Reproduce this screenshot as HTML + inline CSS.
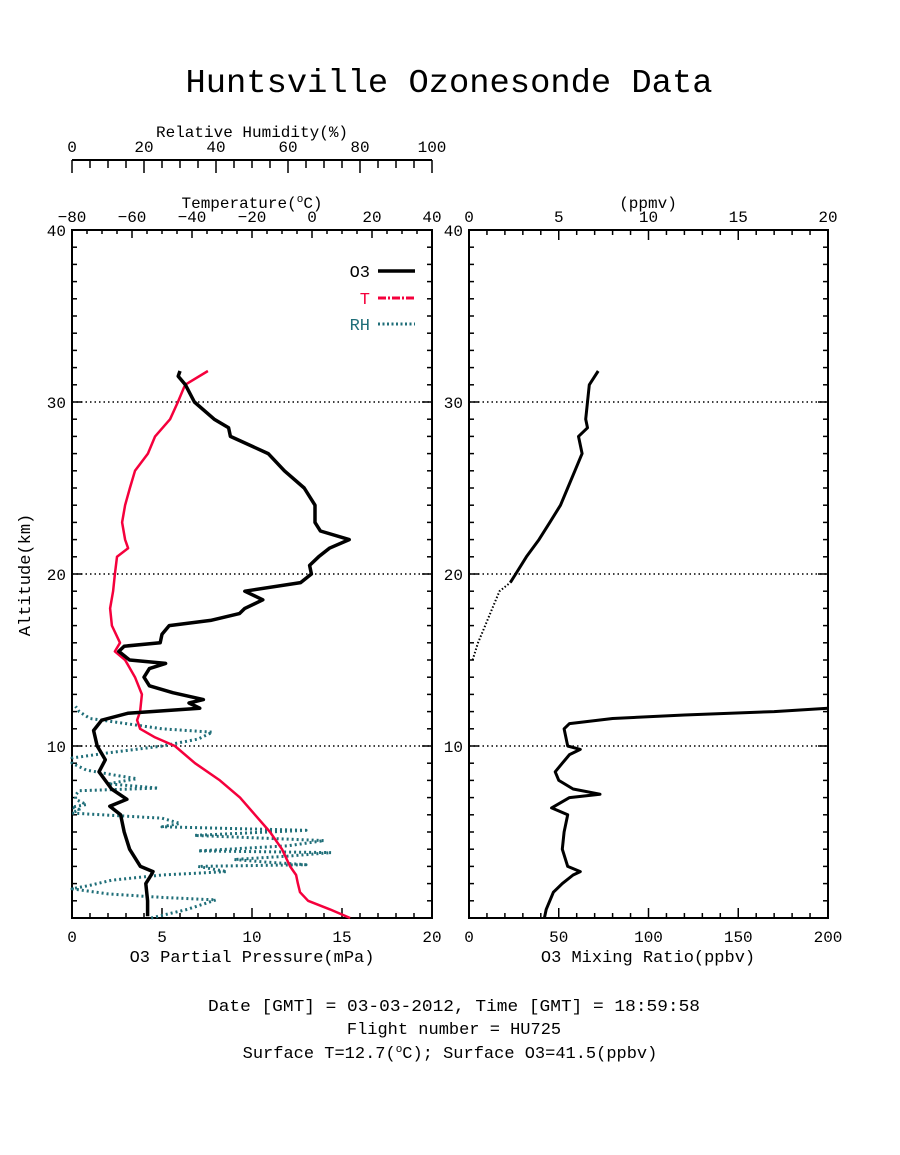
<!DOCTYPE html>
<html><head><meta charset="utf-8"><title>Huntsville Ozonesonde Data</title>
<style>
html,body{margin:0;padding:0;background:#fff;}
svg text{font-family:"Liberation Mono","DejaVu Sans Mono",monospace;fill:#000;}
</style></head>
<body>
<svg id="chart" xmlns="http://www.w3.org/2000/svg" width="900" height="1150" viewBox="0 0 900 1150">
<rect x="0" y="0" width="900" height="1150" fill="#fff"/>
<text x="449" y="92" font-size="33" text-anchor="middle" textLength="527" lengthAdjust="spacingAndGlyphs">Huntsville Ozonesonde Data</text>
<g id="g"></g>
<text x="454" y="1011" font-size="17" text-anchor="middle" textLength="492" lengthAdjust="spacingAndGlyphs">Date [GMT] = 03-03-2012,  Time [GMT] = 18:59:58</text>
<text x="454" y="1034" font-size="17" text-anchor="middle">Flight number = HU725</text>
<text x="450" y="1058" font-size="17" text-anchor="middle">Surface T=12.7(<tspan font-size="11" dy="-6">o</tspan><tspan dy="6">C); Surface O3=41.5(ppbv)</tspan></text>
</svg>
<script>
// ---- data ----
const o3Alt = [0.1,1,2,2.5,2.7,3,4,5,6,6.5,6.9,7.5,8.5,9.2,10,10.9,11.5,11.9,12.2,12.5,12.7,13.1,13.5,14,14.5,14.8,15,15.5,15.8,16,16.5,17,17.3,17.7,18,18.5,19,19.5,20,20.5,21,21.5,22,22.5,23,24,25,26,27,28,28.5,29,30,31,31.5,31.8];
const o3Pp  = [4.2,4.2,4.1,4.4,4.5,3.8,3.2,2.9,2.7,2.1,3.05,2.2,1.5,1.85,1.4,1.2,1.65,3.1,7.1,6.5,7.3,5.6,4.3,4.0,4.3,5.2,3.2,2.6,2.9,4.9,5.0,5.4,7.7,9.3,9.6,10.6,9.6,12.7,13.3,13.2,13.7,14.3,15.4,13.8,13.5,13.5,12.9,11.8,10.9,8.8,8.7,7.9,6.8,6.3,5.9,6.0];
const tAlt = [0,0.5,1,1.5,2,2.5,3,4,5,6,7,8,9,10,10.5,11,11.5,12,13,14,15,15.5,16,17,18,19,20,21,21.5,22,23,24,25,26,27,28,29,30,31,31.8];
const tVal = [12.7,6,-1.3,-4,-4.7,-5.3,-7.3,-10,-14,-19,-24,-30.7,-39,-45.7,-52.3,-57.3,-58.3,-57.3,-56.7,-59,-62.3,-65.7,-64,-66.7,-67.3,-66.3,-65.7,-65,-61.3,-62.3,-63.3,-62.3,-60.7,-59,-54.7,-52.3,-47.3,-44.7,-42.3,-34.7];
const rhAlt = [0,0.5,1.05,1.2,1.4,1.7,1.9,2.2,2.5,2.7,3.0,3.1,3.25,3.4,3.6,3.8,3.9,4.2,4.5,4.8,5.1,5.3,5.5,5.8,6.1,6.3,6.45,6.6,6.9,7.15,7.4,7.55,7.8,8.1,8.3,8.6,9.0,9.3,9.6,10.0,10.4,10.8,11.0,11.3,11.6,12.0,12.3];
const rhVal = [22,32,40,25,10,0,5,11,25,43,35,65,54,45,60,72,35,60,70,34,65,25,30,25,0,2,0,4,1,1,2,24,10,18,12,4,0,0,10,25,35,39,25,15,5,2,1];
const mrAltLow = [0,0.5,1,1.5,2,2.5,2.7,3,4,5,6,6.4,7,7.2,7.5,8,8.5,9,9.5,9.8,10,11,11.3,11.6,11.8,12,12.2];
const mrPpbv   = [42,43,45,47,52,58,62,55,52,53,55,46,56,73,58,50,48,52,56,62,55,53,56,80,120,170,200];
const mrAltHigh = [15,16,17,18,19,19.5,20,21,22,23,24,25,26,27,28,28.5,29,30,31,31.8];
const mrPpmv    = [0.2,0.5,0.9,1.3,1.7,2.3,2.6,3.2,3.9,4.5,5.1,5.5,5.9,6.3,6.1,6.6,6.5,6.6,6.7,7.2];
const altTicks = [10,20,30,40];
const ppTicks = [0,5,10,15,20];
const tTicks = [-80,-60,-40,-20,0,20,40];
const rhTicks = [0,20,40,60,80,100];
const ppmvTicks = [0,5,10,15,20];
const ppbvTicks = [0,50,100,150,200];

// ---- geometry ----
const NS='http://www.w3.org/2000/svg';
const g=document.getElementById('g');
const L={x0:72,x1:432}, R={x0:469,x1:828}, Y0=918, Y1=230;
const yA=a=>Y0-(a/40)*(Y0-Y1);
const xPP=v=>L.x0+v/20*(L.x1-L.x0);
const xT=v=>L.x0+(v+80)/120*(L.x1-L.x0);
const xRH=v=>L.x0+v/100*(L.x1-L.x0);
const xPB=v=>R.x0+v/200*(R.x1-R.x0);
const xPM=v=>R.x0+v/20*(R.x1-R.x0);
function el(t,a,p){const e=document.createElementNS(NS,t);for(const k in a)e.setAttribute(k,a[k]);(p||g).appendChild(e);return e;}
function line(x1,y1,x2,y2,w,c){return el('line',{x1,y1,x2,y2,stroke:c||'#000','stroke-width':w||1.5});}
function txt(s,x,y,sz,anc){const t=el('text',{x,y,'font-size':sz||16,'text-anchor':anc||'middle'});t.textContent=s;return t;}
function poly(xs,ys,fx,style){const pts=xs.map((v,i)=>fx(v).toFixed(1)+','+yA(ys[i]).toFixed(1)).join(' ');const p=el('polyline',Object.assign({points:pts,fill:'none','stroke-linejoin':'round'},style));return p;}

// boxes
for(const B of [L,R]){
  const r=el('rect',{x:B.x0,y:Y1,width:B.x1-B.x0,height:Y0-Y1,fill:'none',stroke:'#000','stroke-width':2});
  
  
  // altitude ticks
  for(let a=1;a<40;a++){const len=a%10===0?10:5;const y=yA(a);line(B.x0,y,B.x0+len,y,1.5);line(B.x1,y,B.x1-len,y,1.5);}
  // gridlines
  for(const a of [10,20,30]){const gl=el('line',{x1:B.x0,y1:yA(a),x2:B.x1,y2:yA(a),stroke:'#000','stroke-width':1.5,'stroke-dasharray':'1.5 3'});}
}
// left altitude labels
for(const a of altTicks){const t=txt(String(a),L.x0-6,yA(a)+6,16,'end');
  const t2=txt(String(a),R.x0-6,yA(a)+6,16,'end');}
// left bottom O3 partial pressure axis
for(let v=1;v<20;v++){const len=v%5===0?10:5;line(xPP(v),Y0,xPP(v),Y0-len,1.5);}
for(const v of ppTicks){const t=txt(String(v),xPP(v),942,16);}
{const t=txt('O3 Partial Pressure(mPa)',252,962,17);}
// temperature axis (top of box)
for(let v=-75;v<40;v+=5){const len=v%20===0?8:4;line(xT(v),Y1,xT(v),Y1+len,1.5);}
for(const v of tTicks){const t=txt(v<0?'\u2212'+(-v):String(v),xT(v),222,16);}
{const t=el('text',{x:252,y:208,'font-size':16,'text-anchor':'middle'});t.innerHTML='Temperature(<tspan font-size="11" dy="-6">o</tspan><tspan dy="6">C)</tspan>';}
// RH axis
line(L.x0,160,L.x1,160,2);
for(let v=0;v<=100;v+=5){const len=v%20===0?13:8;line(xRH(v),160,xRH(v),160+len,1.5);}
for(const v of rhTicks){const t=txt(String(v),xRH(v),152,16);}
{const t=txt('Relative Humidity(%)',252,137,16);}
// altitude title
{const t=el('text',{x:0,y:0,'font-size':17,'text-anchor':'middle',transform:'translate(30,575) rotate(-90)'});t.textContent='Altitude(km)';}
// right axes
for(let v=1;v<20;v++){const len=v%5===0?10:5;line(xPM(v),Y1,xPM(v),Y1+len,1.5);}
for(const v of ppmvTicks){const t=txt(String(v),xPM(v),222,16);}
{const t=txt('(ppmv)',648,208,16);}
for(let v=10;v<200;v+=10){const len=v%50===0?10:5;line(xPB(v),Y0,xPB(v),Y0-len,1.5);}
for(const v of ppbvTicks){const t=txt(String(v),xPB(v),942,16);}
{const t=txt('O3 Mixing Ratio(ppbv)',648,962,17);}

// series
const rh=poly(rhVal,rhAlt,xRH,{stroke:'#1f6e78','stroke-width':3,'stroke-dasharray':'2 3'});

const ts=poly(tVal,tAlt,xT,{stroke:'#f5003c','stroke-width':2.5});

const os=poly(o3Pp,o3Alt,xPP,{stroke:'#000','stroke-width':3.5});

const ml=poly(mrPpbv,mrAltLow,xPB,{stroke:'#000','stroke-width':3});

const hiIdx=mrAltHigh.findIndex(a=>a>=19.5);
const mh1=poly(mrPpmv.slice(0,hiIdx+1),mrAltHigh.slice(0,hiIdx+1),xPM,{stroke:'#000','stroke-width':2,'stroke-dasharray':'1.5 2'});

const mh2=poly(mrPpmv.slice(hiIdx),mrAltHigh.slice(hiIdx),xPM,{stroke:'#000','stroke-width':3});


// legend
const lg=[['O3','#000',{'stroke-width':3.5}],['T','#f5003c',{'stroke-width':3,'stroke-dasharray':'8 2 2 2'}],['RH','#1f6e78',{'stroke-width':3,'stroke-dasharray':'2 2.5'}]];
const lgY=[271,298,324];
lg.forEach((d,i)=>{
  const t=txt(d[0],370,lgY[i]+6,17,'end');t.setAttribute('fill',d[1]);t.style.fill=d[1];
  
  
  const l=el('line',Object.assign({x1:378,y1:lgY[i],x2:415,y2:lgY[i],stroke:d[1]},d[2]));
  
  
});
</script>
</body></html>
